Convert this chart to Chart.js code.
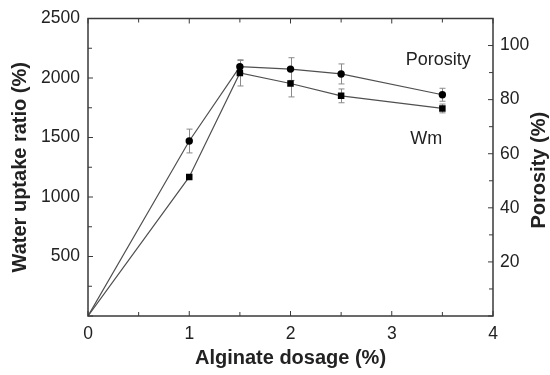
<!DOCTYPE html>
<html>
<head>
<meta charset="utf-8">
<script src="https://cdn.jsdelivr.net/npm/chart.js@4/dist/chart.umd.min.js"></script>
<style>
  html, body { margin: 0; padding: 0; background: #fff; }
  #wrap { width: 550px; height: 375px; }
</style>
</head>
<body>
<div id="wrap"><canvas id="c" width="550" height="375"></canvas></div>
<script>
// ---- data ----
const dosage = [0, 1, 1.5, 2, 2.5, 3.5];
const wmValues = [0, 1169, 2043, 1954, 1850, 1744];
const wmErrors = [0, 0, 110, 113, 58, 37];
const porosityValues = [0, 64.7, 92.2, 91.3, 89.5, 81.8];
const porosityErrors = [0, 4.4, 2.3, 4.2, 3.7, 2.4];
const xTickLabels = ['0', '1', '2', '3', '4'];
const yTickLabels = ['500', '1000', '1500', '2000', '2500'];
const y2TickLabels = ['20', '40', '60', '80', '100'];
const seriesNames = ['Wm', 'Porosity'];

const FONT = '"Liberation Sans", Arial, sans-serif';
const TEXT = '#222';

const toPts = (xs, ys) => xs.map((x, i) => ({x: x, y: ys[i]}));

const errorBars = {
  id: 'errorBars',
  beforeDatasetsDraw(chart) {
    const ctx = chart.ctx;
    const xs = chart.scales.x;
    const sets = [
      {scale: chart.scales.y, vals: wmValues, errs: wmErrors},
      {scale: chart.scales.y2, vals: porosityValues, errs: porosityErrors}
    ];
    ctx.save();
    ctx.strokeStyle = '#8a8a8a';
    ctx.lineWidth = 1;
    sets.forEach(s => {
      dosage.forEach((d, i) => {
        const e = s.errs[i];
        if (!e) return;
        const px = Math.round(xs.getPixelForValue(d)) + 0.5;
        const top = s.scale.getPixelForValue(s.vals[i] + e);
        const bot = s.scale.getPixelForValue(s.vals[i] - e);
        ctx.beginPath();
        ctx.moveTo(px, top); ctx.lineTo(px, bot);
        ctx.moveTo(px - 3, top); ctx.lineTo(px + 3, top);
        ctx.moveTo(px - 3, bot); ctx.lineTo(px + 3, bot);
        ctx.stroke();
      });
    });
    ctx.restore();
  }
};

const frameAndTicks = {
  id: 'frameAndTicks',
  afterDraw(chart) {
    const ctx = chart.ctx;
    const a = chart.chartArea;
    ctx.save();
    ctx.strokeStyle = '#3a3a3a';
    ctx.lineWidth = 1.5;
    ctx.strokeRect(a.left, a.top, a.right - a.left, a.bottom - a.top);
    ctx.lineWidth = 1;
    const xs = chart.scales.x;
    xs.ticks.forEach(t => {
      const p = xs.getPixelForValue(t.value);
      const len = Number.isInteger(t.value) ? 5 : 4;
      ctx.beginPath();
      ctx.moveTo(p, a.bottom); ctx.lineTo(p, a.bottom - len);
      ctx.moveTo(p, a.top); ctx.lineTo(p, a.top + len);
      ctx.stroke();
    });
    const ys = chart.scales.y;
    ys.ticks.forEach(t => {
      const p = ys.getPixelForValue(t.value);
      const len = t.value % 500 === 0 ? 5 : 4;
      ctx.beginPath();
      ctx.moveTo(a.left, p); ctx.lineTo(a.left + len, p);
      ctx.stroke();
    });
    const y2 = chart.scales.y2;
    y2.ticks.forEach(t => {
      const p = y2.getPixelForValue(t.value);
      const len = t.value % 20 === 0 ? 5 : 4;
      ctx.beginPath();
      ctx.moveTo(a.right, p); ctx.lineTo(a.right - len, p);
      ctx.stroke();
    });
    // right axis title (reads bottom to top)
    ctx.fillStyle = TEXT;
    ctx.font = 'bold 20px ' + FONT;
    ctx.textAlign = 'center';
    ctx.textBaseline = 'middle';
    ctx.translate(539, (a.top + a.bottom) / 2 + 3);
    ctx.rotate(-Math.PI / 2);
    ctx.fillText('Porosity (%)', 0, 0);
    ctx.restore();
    // series labels placed in data coordinates
    ctx.save();
    ctx.fillStyle = TEXT;
    ctx.font = '18px ' + FONT;
    ctx.textAlign = 'center';
    ctx.textBaseline = 'middle';
    ctx.fillText(seriesNames[1], xs.getPixelForValue(3.46), y2.getPixelForValue(94.7));
    ctx.fillText(seriesNames[0], xs.getPixelForValue(3.34), y2.getPixelForValue(65.4));
    ctx.restore();
  }
};

new Chart(document.getElementById('c'), {
  type: 'line',
  data: {
    datasets: [
      {
        label: seriesNames[0],
        data: toPts(dosage, wmValues),
        yAxisID: 'y',
        borderColor: '#505050',
        borderWidth: 1.2,
        pointStyle: 'rect',
        pointRadius: dosage.map((d, i) => i === 0 ? 0 : 4.6),
        pointBackgroundColor: '#000',
        pointBorderColor: '#000',
        pointBorderWidth: 0,
        tension: 0
      },
      {
        label: seriesNames[1],
        data: toPts(dosage, porosityValues),
        yAxisID: 'y2',
        borderColor: '#505050',
        borderWidth: 1.2,
        pointStyle: 'circle',
        pointRadius: dosage.map((d, i) => i === 0 ? 0 : 3.7),
        pointBackgroundColor: '#000',
        pointBorderColor: '#000',
        pointBorderWidth: 0,
        tension: 0
      }
    ]
  },
  options: {
    responsive: false,
    animation: false,
    events: [],
    layout: {padding: {top: 15, left: 0, right: 0, bottom: 0}},
    plugins: {legend: {display: false}, tooltip: {enabled: false}},
    scales: {
      x: {
        type: 'linear', min: 0, max: 4,
        grid: {display: false, drawTicks: false},
        border: {display: false},
        ticks: {
          stepSize: 0.5, autoSkip: false, maxRotation: 0, padding: 8,
          color: TEXT, font: {family: FONT, size: 17.5},
          callback: v => Number.isInteger(v) ? xTickLabels[v] : ''
        },
        title: {display: true, text: 'Alginate dosage (%)', color: TEXT,
                font: {family: FONT, size: 20, weight: 'bold'}, padding: {top: 0, bottom: 5}},
        afterFit: s => { s.height = 59; }
      },
      y: {
        type: 'linear', position: 'left', min: 0, max: 2500,
        grid: {display: false, drawTicks: false},
        border: {display: false},
        ticks: {
          stepSize: 250, autoSkip: false, padding: 8,
          color: TEXT, font: {family: FONT, size: 17.5},
          callback: v => (v > 0 && v % 500 === 0) ? yTickLabels[v / 500 - 1] : ''
        },
        title: {display: true, text: 'Water uptake ratio (%)', color: TEXT,
                font: {family: FONT, size: 20, weight: 'bold'}, padding: {top: 8, bottom: 0}},
        afterFit: s => { s.width = 88; }
      },
      y2: {
        type: 'linear', position: 'right', min: 0, max: 110,
        grid: {display: false, drawTicks: false},
        border: {display: false},
        ticks: {
          stepSize: 10, autoSkip: false, padding: 7,
          color: TEXT, font: {family: FONT, size: 17.5},
          callback: v => (v > 0 && v <= 100 && v % 20 === 0) ? y2TickLabels[v / 20 - 1] : ''
        },
        afterFit: s => { s.width = 57; }
      }
    }
  },
  plugins: [errorBars, frameAndTicks]
});
</script>
</body>
</html>
